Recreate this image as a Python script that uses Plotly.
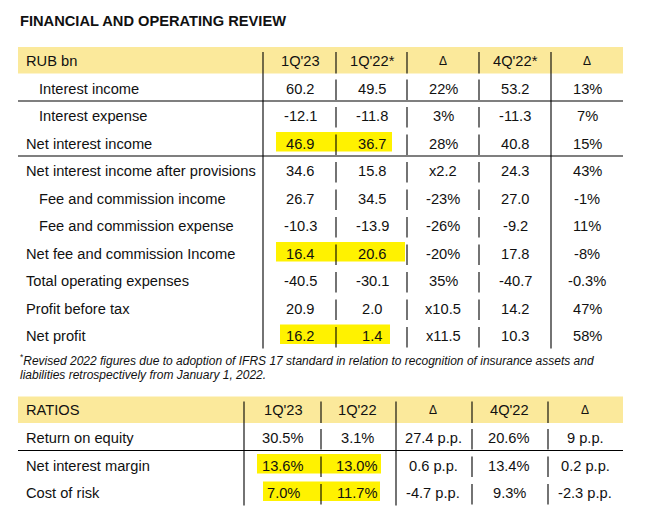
import plotly.graph_objects as go

# ---- data ----
fin_title = "FINANCIAL AND OPERATING REVIEW"
fin_header = ["RUB bn", "1Q'23", "1Q'22*", "Δ", "4Q'22*", "Δ"]
fin_labels = [
    "Interest income",
    "Interest expense",
    "Net interest income",
    "Net interest income after provisions",
    "Fee and commission income",
    "Fee and commission expense",
    "Net fee and commission Income",
    "Total operating expenses",
    "Profit before tax",
    "Net profit",
]
fin_indented = [True, True, False, False, True, True, False, False, False, False]
fin_1q23 = ["60.2", "-12.1", "46.9", "34.6", "26.7", "-10.3", "16.4", "-40.5", "20.9", "16.2"]
fin_1q22 = ["49.5", "-11.8", "36.7", "15.8", "34.5", "-13.9", "20.6", "-30.1", "2.0", "1.4"]
fin_yoy = ["22%", "3%", "28%", "x2.2", "-23%", "-26%", "-20%", "35%", "x10.5", "x11.5"]
fin_4q22 = ["53.2", "-11.3", "40.8", "24.3", "27.0", "-9.2", "17.8", "-40.7", "14.2", "10.3"]
fin_qoq = ["13%", "7%", "15%", "43%", "-1%", "11%", "-8%", "-0.3%", "47%", "58%"]

footnote_1 = ("Revised 2022 figures due to adoption of IFRS 17 standard in relation "
              "to recognition of insurance assets and")
footnote_2 = "liabilities retrospectively from January 1, 2022."

rat_header = ["RATIOS", "1Q'23", "1Q'22", "Δ", "4Q'22", "Δ"]
rat_labels = ["Return on equity", "Net interest margin", "Cost of risk"]
rat_1q23 = ["30.5%", "13.6%", "7.0%"]
rat_1q22 = ["3.1%", "13.0%", "11.7%"]
rat_yoy = ["27.4 p.p.", "0.6 p.p.", "-4.7 p.p."]
rat_4q22 = ["20.6%", "13.4%", "9.3%"]
rat_qoq = ["9 p.p.", "0.2 p.p.", "-2.3 p.p."]

# ---- page geometry (pixels of the page) ----
W, H = 645, 513
LEFT, RIGHT = 18, 623
PITCH = 27.5
FONT = "Liberation Sans, Arial, sans-serif"
SIZE = 14.67
HEADER_FILL = "#fbe99b"
MARKER = "#fff200"

fig = go.Figure()
fig.update_layout(
    width=W, height=H,
    margin={"l": 0, "r": 0, "t": 0, "b": 0},
    paper_bgcolor="white", plot_bgcolor="white",
    showlegend=False,
    xaxis={"range": [0, W], "visible": False, "fixedrange": True},
    yaxis={"range": [H, 0], "visible": False, "fixedrange": True},
)


def line(x0, y0, x1, y1, width=1.1):
    fig.add_shape(type="line", x0=x0, y0=y0, x1=x1, y1=y1,
                  line={"color": "black", "width": width}, layer="above")


def text(x, y, s, anchor="center", size=SIZE, **kw):
    fig.add_annotation(x=x, y=y, text=s, showarrow=False, xanchor=anchor,
                       yanchor="middle", font={"family": FONT, "size": size, "color": "#111"},
                       **kw)


def draw_table(top, header, labels, columns, col_x, col_lines, solid_lines,
               hlines, indented, highlights):
    """
    Draws one of the report tables: yellow header, values, borders and the
    highlighter marks. Rows are laid out from the header top with a fixed pitch.
    """
    head_bottom = top + 26.5
    n = len(labels)
    bottom = head_bottom + PITCH * n

    fig.add_shape(type="rect", x0=LEFT, x1=RIGHT, y0=top, y1=head_bottom,
                  fillcolor=HEADER_FILL, line={"width": 0}, layer="below")

    # highlighter blobs
    for row, (x0, x1) in highlights:
        rt = head_bottom + PITCH * row
        fig.add_shape(type="rect", x0=x0, x1=x1, y0=rt + 3.5, y1=rt + 23,
                      fillcolor=MARKER, line={"width": 0}, layer="below")

    # header
    text(LEFT + 6, top + 13.5, header[0], anchor="left")
    for cx, h in zip(col_x, header[1:]):
        text(cx, top + 13.5, h, size=12 if h == "Δ" else SIZE)

    # body
    for i, label in enumerate(labels):
        yc = head_bottom + PITCH * i + 15
        text(LEFT + (19 if indented[i] else 6), yc, label, anchor="left")
        for cx, col in zip(col_x, columns):
            text(cx, yc, col[i])

    # borders
    for y in hlines:
        line(LEFT, head_bottom + PITCH * y, RIGHT, head_bottom + PITCH * y)
    for x in solid_lines:
        line(x, top + 5, x, bottom)
    for x in col_lines:
        line(x, top + 5, x, head_bottom)
        for i in range(n):
            rt = head_bottom + PITCH * i
            line(x, rt + 6, x, rt + 26.5)


text(LEFT, 21, "<b>" + fin_title + "</b>", anchor="left")

draw_table(
    top=47,
    header=fin_header,
    labels=fin_labels,
    columns=[fin_1q23, fin_1q22, fin_yoy, fin_4q22, fin_qoq],
    col_x=[300, 372, 443, 515, 587],
    col_lines=[336, 407, 479],
    solid_lines=[263, 551],
    hlines=[1, 3],
    indented=fin_indented,
    highlights=[(2, (276, 392)), (6, (276, 405)), (9, (280, 390))],
)

text(LEFT, 360, "<sup>*</sup><i>" + footnote_1 + "</i>", anchor="left", size=12)
text(LEFT, 375, "<i>" + footnote_2 + "</i>", anchor="left", size=12)

draw_table(
    top=396.5,
    header=rat_header,
    labels=rat_labels,
    columns=[rat_1q23, rat_1q22, rat_yoy, rat_4q22, rat_qoq],
    col_x=[283, 357, 433, 509, 585],
    col_lines=[321, 472, 548],
    solid_lines=[244, 396],
    hlines=[1],
    indented=[False, False, False],
    highlights=[(1, (257, 381)), (2, (263, 380))],
)

# the page is the table itself: drop the browser's default body margin
fig.write_html(
    "out.html",
    config={"displayModeBar": False},
    post_script="document.body.style.margin='0';",
)
